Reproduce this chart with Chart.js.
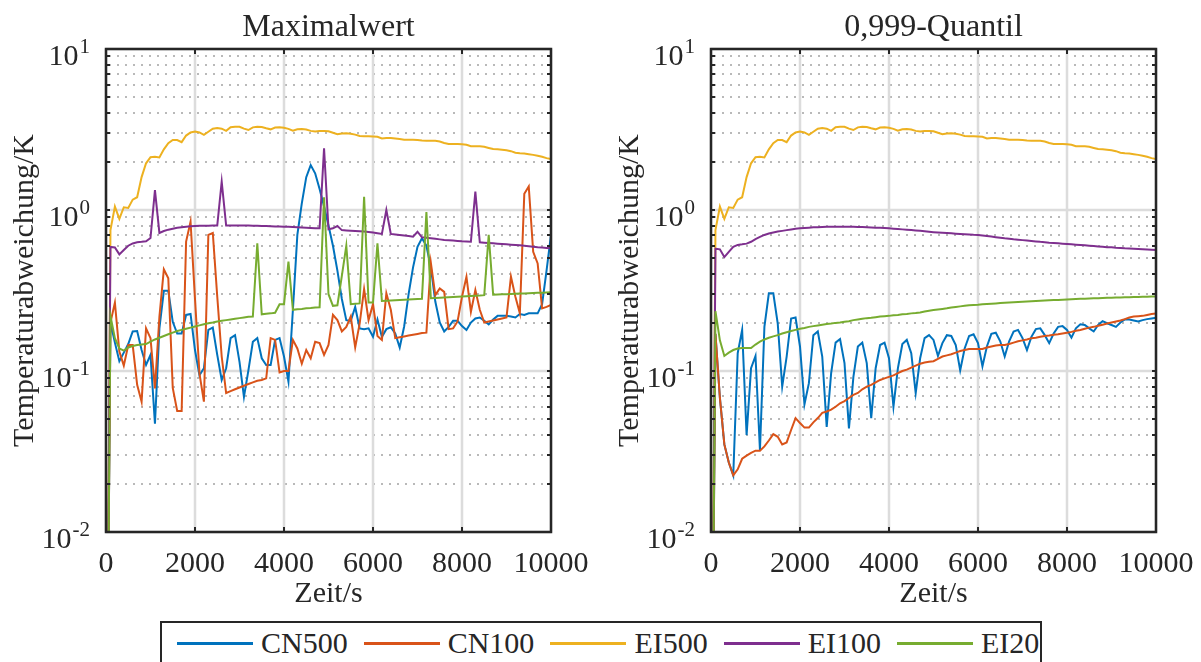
<!DOCTYPE html>
<html>
<head>
<meta charset="utf-8">
<script src="https://cdn.jsdelivr.net/npm/chart.js@4.4.1/dist/chart.umd.min.js"></script>
<style>
  html, body { margin: 0; padding: 0; background: #fff; width: 1201px; height: 662px; overflow: hidden; }
  canvas { position: absolute; top: 0; }
  #cMax { left: 0; }
  #cQuant { left: 605px; }
  #legend {
    position: absolute; left: 160px; top: 621px; width: 882px; height: 70px;
    box-sizing: border-box; border: 2px solid #262626; background: #fff;
    display: flex; align-items: flex-start; padding: 3px 0 0 15px;
    font-family: "Liberation Serif", "Times New Roman", serif; font-size: 30px; color: #262626;
  }
  .item { display: flex; align-items: center; height: 34px; margin-right: 16px; white-space: nowrap; }
  .swatch { width: 76px; height: 3px; margin-right: 8px; }
</style>
</head>
<body>
<canvas id="cMax" width="600" height="620"></canvas>
<canvas id="cQuant" width="596" height="620"></canvas>
<div id="legend"></div>
<script>
// Time axis in seconds
const time = [0,100,200,300,400,500,600,700,800,900,1000,1100,1200,1300,1400,1500,1600,1700,1800,1900,
  2000,2100,2200,2300,2400,2500,2600,2700,2800,2900,3000,3100,3200,3300,3400,3500,3600,3700,3800,3900,
  4000,4100,4200,4300,4400,4500,4600,4700,4800,4900,5000,5100,5200,5300,5400,5500,5600,5700,5800,5900,
  6000,6100,6200,6300,6400,6500,6600,6700,6800,6900,7000,7100,7200,7300,7400,7500,7600,7700,7800,7900,
  8000,8100,8200,8300,8400,8500,8600,8700,8800,8900,9000,9100,9200,9300,9400,9500,9600,9700,9800,9900,10000];

const seriesNames = ['CN500', 'CN100', 'EI500', 'EI100', 'EI20'];
const seriesColors = ['#0072BD', '#D95319', '#EDB120', '#7E2F8E', '#77AC30'];

// Maximalwert (K)
const cn500Max = [0.0001,0.2,0.15,0.115,0.13,0.147,0.176,0.177,0.135,0.109,0.126,0.047,0.184,0.315,0.315,0.202,0.171,0.171,0.223,0.226,
  0.135,0.094,0.104,0.18,0.186,0.126,0.088,0.104,0.16,0.167,0.114,0.069,0.101,0.152,0.16,0.12,0.109,0.109,0.156,0.16,
  0.123,0.086,0.24,0.7,1.1,1.6,1.9,1.69,1.35,1.05,0.8,0.6,0.42,0.28,0.207,0.205,0.25,0.184,0.182,0.184,
  0.163,0.209,0.163,0.182,0.187,0.171,0.14,0.189,0.3,0.44,0.59,0.667,0.6,0.44,0.27,0.2,0.176,0.188,0.205,0.205,
  0.19,0.18,0.2,0.212,0.215,0.205,0.195,0.209,0.22,0.22,0.22,0.218,0.215,0.226,0.223,0.228,0.228,0.228,0.26,0.42,0.7];
const cn100Max = [0.0001,0.2,0.266,0.132,0.108,0.145,0.145,0.082,0.0645,0.184,0.16,0.078,0.217,0.428,0.377,0.0786,0.0564,0.0564,0.636,0.846,
  0.28,0.0966,0.0645,0.7,0.72,0.29,0.123,0.073,0.075,0.077,0.079,0.081,0.083,0.085,0.087,0.088,0.09,0.16,0.156,0.098,
  0.1,0.1,0.156,0.138,0.111,0.135,0.12,0.152,0.149,0.126,0.145,0.223,0.207,0.176,0.188,0.218,0.14,0.197,0.322,0.207,
  0.26,0.165,0.156,0.304,0.24,0.16,0.162,0.164,0.166,0.168,0.17,0.172,0.173,0.47,0.296,0.326,0.31,0.182,0.184,0.203,
  0.289,0.385,0.233,0.318,0.24,0.2,0.203,0.206,0.209,0.212,0.215,0.385,0.289,0.228,1.26,1.4,0.55,0.466,0.245,0.25,0.257];
const ei500Max = [0.0001,0.75,1.05,0.88,1.04,1.03,1.16,1.2,1.6,1.95,2.13,2.14,2.12,2.38,2.6,2.72,2.72,2.64,2.9,3.03,
  3.07,3.03,2.93,3.06,3.2,3.23,3.2,3.1,3.27,3.29,3.29,3.2,3.14,3.26,3.29,3.28,3.22,3.17,3.25,3.26,
  3.24,3.19,3.11,3.17,3.18,3.16,3.1,3.07,3.1,3.1,3.08,3.02,2.96,2.99,3.0,2.98,2.94,2.88,2.87,2.87,
  2.86,2.85,2.78,2.8,2.8,2.78,2.76,2.73,2.73,2.73,2.72,2.7,2.69,2.69,2.69,2.66,2.61,2.57,2.57,2.57,
  2.56,2.54,2.49,2.49,2.49,2.47,2.43,2.39,2.38,2.37,2.35,2.32,2.27,2.25,2.24,2.22,2.2,2.17,2.14,2.1,2.07];
const ei100Max = [0.0001,0.59,0.585,0.53,0.565,0.6,0.62,0.63,0.634,0.64,0.67,1.33,0.72,0.74,0.755,0.765,0.775,0.782,0.788,0.792,
  0.795,0.797,0.798,0.799,0.8,0.8,1.5,0.8,0.8,0.8,0.8,0.8,0.8,0.798,0.797,0.796,0.795,0.793,0.791,0.789,
  0.788,0.786,0.784,0.782,0.779,0.776,0.773,0.771,0.77,2.42,0.76,0.77,0.795,0.75,0.747,0.744,0.741,0.738,0.735,0.731,
  0.724,0.717,0.71,1.0,0.71,0.705,0.699,0.694,0.689,0.683,0.733,0.677,0.672,0.667,0.662,0.657,0.652,0.649,0.646,0.643,
  0.64,0.638,0.636,1.3,0.63,0.627,0.624,0.621,0.618,0.615,0.612,0.609,0.606,0.603,0.599,0.595,0.591,0.587,0.584,0.581,0.578];
const ei20Max = [0.0001,0.22,0.16,0.138,0.134,0.14,0.143,0.145,0.146,0.147,0.152,0.157,0.161,0.165,0.169,0.173,0.177,0.18,0.183,0.186,
  0.189,0.192,0.195,0.198,0.2,0.203,0.205,0.207,0.209,0.211,0.213,0.215,0.217,0.218,0.62,0.225,0.227,0.228,0.23,0.26,
  0.26,0.478,0.24,0.242,0.243,0.245,0.246,0.248,0.249,1.2,0.3,0.254,0.256,0.39,0.6,0.26,0.262,0.263,1.21,0.266,
  0.266,0.62,0.272,0.273,0.274,0.275,0.276,0.277,0.278,0.279,0.28,0.281,0.97,0.283,0.284,0.285,0.286,0.287,0.288,0.289,
  0.29,0.291,0.292,0.293,0.294,0.296,0.7,0.298,0.299,0.3,0.3,0.301,0.302,0.303,0.303,0.304,0.305,0.306,0.306,0.307,0.308];

// 0,999-Quantil (K)
const cn500Quant = [0.0001,0.17,0.068,0.035,0.027,0.0225,0.129,0.18,0.04,0.104,0.124,0.0323,0.188,0.304,0.304,0.197,0.08,0.123,0.212,0.215,
  0.142,0.062,0.084,0.167,0.176,0.123,0.045,0.097,0.15,0.158,0.112,0.044,0.092,0.142,0.15,0.112,0.051,0.104,0.145,0.15,
  0.12,0.06,0.104,0.147,0.156,0.129,0.073,0.12,0.16,0.167,0.156,0.124,0.149,0.167,0.165,0.145,0.101,0.138,0.165,0.169,
  0.149,0.107,0.142,0.17,0.173,0.153,0.123,0.153,0.176,0.18,0.16,0.135,0.163,0.182,0.184,0.167,0.149,0.171,0.188,0.19,
  0.18,0.161,0.184,0.195,0.193,0.184,0.176,0.193,0.204,0.198,0.193,0.188,0.2,0.209,0.209,0.206,0.203,0.207,0.21,0.212,0.214];
const cn100Quant = [0.0001,0.17,0.068,0.035,0.027,0.0225,0.0245,0.0285,0.0298,0.031,0.032,0.032,0.034,0.037,0.0405,0.039,0.035,0.036,0.043,0.051,
  0.0475,0.0445,0.0445,0.048,0.051,0.055,0.056,0.0575,0.06,0.063,0.065,0.068,0.071,0.073,0.077,0.08,0.082,0.085,0.088,0.09,
  0.092,0.094,0.097,0.1,0.102,0.105,0.108,0.111,0.113,0.114,0.115,0.119,0.123,0.125,0.127,0.13,0.133,0.135,0.137,0.137,
  0.137,0.137,0.14,0.142,0.144,0.145,0.145,0.147,0.15,0.153,0.155,0.157,0.16,0.161,0.163,0.165,0.166,0.168,0.169,0.171,
  0.173,0.175,0.178,0.18,0.183,0.186,0.188,0.191,0.194,0.197,0.2,0.203,0.206,0.21,0.215,0.218,0.219,0.22,0.223,0.226,0.228];
const ei500Quant = [0.0001,0.75,1.05,0.88,1.04,1.03,1.16,1.2,1.6,1.95,2.13,2.14,2.12,2.38,2.6,2.72,2.72,2.64,2.9,3.03,
  3.07,3.03,2.93,3.06,3.2,3.23,3.2,3.1,3.27,3.29,3.29,3.2,3.14,3.26,3.29,3.28,3.22,3.17,3.25,3.26,
  3.24,3.19,3.11,3.17,3.18,3.16,3.1,3.07,3.1,3.1,3.08,3.02,2.96,2.99,3.0,2.98,2.94,2.88,2.87,2.87,
  2.86,2.85,2.78,2.8,2.8,2.78,2.76,2.73,2.73,2.73,2.72,2.7,2.69,2.69,2.69,2.66,2.61,2.57,2.57,2.57,
  2.56,2.54,2.49,2.49,2.49,2.47,2.43,2.39,2.38,2.37,2.35,2.32,2.27,2.25,2.24,2.22,2.2,2.17,2.14,2.1,2.07];
const ei100Quant = [0.0001,0.575,0.57,0.51,0.55,0.59,0.607,0.612,0.618,0.635,0.66,0.68,0.7,0.715,0.725,0.735,0.742,0.75,0.757,0.765,
  0.77,0.774,0.777,0.78,0.782,0.784,0.786,0.787,0.788,0.788,0.788,0.787,0.786,0.785,0.783,0.781,0.779,0.777,0.775,0.773,
  0.77,0.766,0.762,0.758,0.754,0.75,0.746,0.742,0.737,0.732,0.728,0.725,0.722,0.719,0.716,0.713,0.71,0.707,0.704,0.701,
  0.7,0.695,0.69,0.684,0.678,0.672,0.667,0.663,0.658,0.654,0.65,0.646,0.642,0.638,0.634,0.631,0.627,0.624,0.621,0.618,
  0.615,0.612,0.609,0.606,0.603,0.6,0.597,0.594,0.591,0.588,0.586,0.583,0.581,0.578,0.576,0.574,0.572,0.57,0.568,0.566,0.564];
const ei20Quant = [0.0001,0.235,0.155,0.124,0.13,0.135,0.138,0.139,0.139,0.139,0.146,0.152,0.157,0.161,0.164,0.167,0.171,0.174,0.177,0.18,
  0.183,0.185,0.188,0.19,0.192,0.194,0.196,0.197,0.199,0.2,0.202,0.204,0.207,0.209,0.211,0.213,0.214,0.216,0.218,0.219,
  0.22,0.222,0.223,0.225,0.226,0.228,0.229,0.231,0.234,0.237,0.239,0.241,0.243,0.245,0.248,0.25,0.252,0.254,0.256,0.257,
  0.258,0.26,0.261,0.262,0.263,0.264,0.265,0.266,0.267,0.268,0.269,0.27,0.271,0.272,0.273,0.274,0.275,0.276,0.276,0.277,
  0.278,0.279,0.28,0.281,0.281,0.282,0.283,0.283,0.284,0.285,0.285,0.286,0.286,0.287,0.287,0.288,0.288,0.289,0.289,0.29,0.29];

// Axis ticks
const xTickValues = [0, 2000, 4000, 6000, 8000, 10000];
const yTickValues = [0.01, 0.1, 1, 10];
const yTickExponents = ['-2', '-1', '0', '1'];
const yMinorTicks = [0.02,0.03,0.04,0.05,0.06,0.07,0.08,0.09, 0.2,0.3,0.4,0.5,0.6,0.7,0.8,0.9, 2,3,4,5,6,7,8,9];

const FONT = '"Liberation Serif", "Times New Roman", serif';
const INK = '#262626';

const panelPlugin = {
  id: 'panel',
  beforeDatasetsDraw(chart) {
    const { ctx, chartArea: a, scales: { x, y } } = chart;
    ctx.save();
    // dotted minor grid
    ctx.strokeStyle = 'rgba(38,38,38,0.32)';
    ctx.lineWidth = 2;
    ctx.setLineDash([2, 6]);
    for (const v of yMinorTicks) {
      const py = Math.round(y.getPixelForValue(v));
      ctx.beginPath(); ctx.moveTo(a.left + 3, py); ctx.lineTo(a.right, py); ctx.stroke();
    }
    // major grid
    ctx.setLineDash([]);
    ctx.strokeStyle = '#dcdcdc';
    ctx.lineWidth = 2.5;
    for (const v of xTickValues) {
      const px = Math.round(x.getPixelForValue(v));
      ctx.beginPath(); ctx.moveTo(px, a.top); ctx.lineTo(px, a.bottom); ctx.stroke();
    }
    for (const v of yTickValues) {
      const py = Math.round(y.getPixelForValue(v));
      ctx.beginPath(); ctx.moveTo(a.left, py); ctx.lineTo(a.right, py); ctx.stroke();
    }
    ctx.restore();
  },
  afterDatasetsDraw(chart, args, opts) {
    const { ctx, chartArea: a, scales: { x, y } } = chart;
    ctx.save();
    // axes box
    ctx.strokeStyle = INK;
    ctx.lineWidth = 2.5;
    ctx.strokeRect(a.left, a.top, a.right - a.left, a.bottom - a.top);
    // inward tick marks
    ctx.lineWidth = 2;
    for (const v of xTickValues) {
      const px = Math.round(x.getPixelForValue(v));
      ctx.beginPath();
      ctx.moveTo(px, a.bottom); ctx.lineTo(px, a.bottom - 5);
      ctx.moveTo(px, a.top); ctx.lineTo(px, a.top + 5);
      ctx.stroke();
    }
    for (const v of yTickValues.concat(yMinorTicks)) {
      const py = Math.round(y.getPixelForValue(v));
      ctx.beginPath();
      ctx.moveTo(a.left, py); ctx.lineTo(a.left + 4, py);
      ctx.moveTo(a.right, py); ctx.lineTo(a.right - 4, py);
      ctx.stroke();
    }
    ctx.fillStyle = INK;
    // x tick labels
    ctx.font = '30px ' + FONT;
    ctx.textAlign = 'center';
    ctx.textBaseline = 'alphabetic';
    for (const v of xTickValues) {
      ctx.fillText(String(v), x.getPixelForValue(v), a.bottom + 40);
    }
    // y tick labels as powers of ten
    yTickValues.forEach((v, i) => {
      const py = y.getPixelForValue(v);
      const right = a.left - 16;
      ctx.textAlign = 'right';
      ctx.font = '21px ' + FONT;
      const ew = ctx.measureText(yTickExponents[i]).width;
      ctx.fillText(yTickExponents[i], right, py + 4);
      ctx.font = '30px ' + FONT;
      ctx.fillText('10', right - ew - 1, py + 16);
    });
    // axis titles
    const cx = (a.left + a.right) / 2;
    ctx.textAlign = 'center';
    ctx.font = '30px ' + FONT;
    ctx.fillText('Zeit/s', cx, a.bottom + 70);
    ctx.font = '32px ' + FONT;
    ctx.fillText(opts.title, cx, 36);
    ctx.save();
    ctx.translate(a.left - 73, (a.top + a.bottom) / 2);
    ctx.rotate(-Math.PI / 2);
    ctx.font = '30px ' + FONT;
    ctx.fillText('Temperaturabweichung/K', 0, 0);
    ctx.restore();
    ctx.restore();
  }
};

function makePanel(canvasId, title, values, padRight) {
  const datasets = values.map((vals, i) => ({
    label: seriesNames[i],
    data: time.map((t, k) => ({ x: t, y: vals[k] })),
    borderColor: seriesColors[i],
    backgroundColor: seriesColors[i],
    borderWidth: 2,
    pointRadius: 0,
    tension: 0,
    fill: false,
    order: values.length - i
  }));
  return new Chart(document.getElementById(canvasId), {
    type: 'line',
    data: { datasets },
    options: {
      responsive: false,
      animation: false,
      devicePixelRatio: 1,
      layout: { padding: { left: 106, top: 49, right: padRight, bottom: 88 } },
      scales: {
        x: { type: 'linear', min: 0, max: 10000, display: false },
        y: { type: 'logarithmic', min: 0.01, max: 10, display: false }
      },
      plugins: {
        legend: { display: false },
        tooltip: { enabled: false },
        panel: { title }
      }
    },
    plugins: [panelPlugin]
  });
}

function buildLegend() {
  const box = document.getElementById('legend');
  seriesNames.forEach((name, i) => {
    const item = document.createElement('div');
    item.className = 'item';
    const sw = document.createElement('div');
    sw.className = 'swatch';
    sw.style.background = seriesColors[i];
    const label = document.createElement('span');
    label.textContent = name;
    item.appendChild(sw);
    item.appendChild(label);
    box.appendChild(item);
  });
}

function init() {
  buildLegend();
  makePanel('cMax', 'Maximalwert', [cn500Max, cn100Max, ei500Max, ei100Max, ei20Max], 49);
  makePanel('cQuant', '0,999-Quantil', [cn500Quant, cn100Quant, ei500Quant, ei100Quant, ei20Quant], 45);
}

if (document.fonts && document.fonts.load) {
  Promise.all([
    document.fonts.load('30px "Liberation Serif"'),
    document.fonts.load('21px "Liberation Serif"')
  ]).then(init, init);
} else {
  init();
}
</script>
</body>
</html>
